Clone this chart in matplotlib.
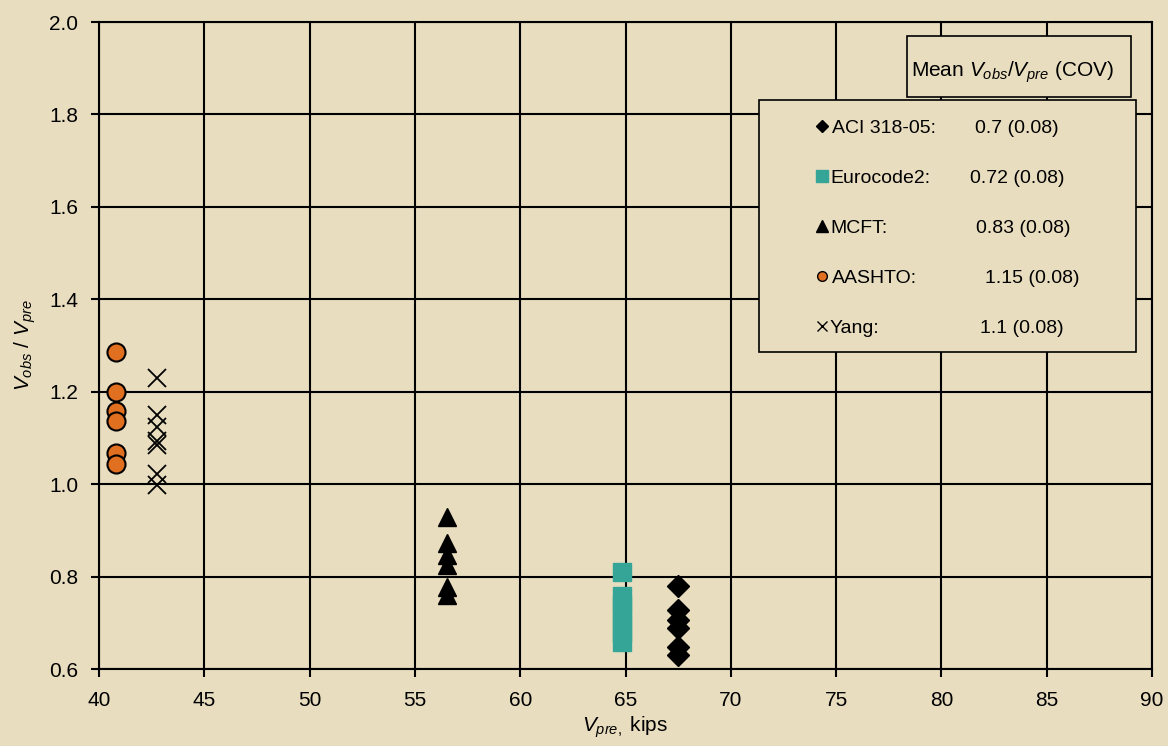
import matplotlib.pyplot as plt
from matplotlib.patches import Rectangle

plt.rcParams['font.family'] = 'Liberation Sans'
plt.rcParams['mathtext.fontset'] = 'custom'
plt.rcParams['mathtext.rm'] = 'Liberation Sans'
plt.rcParams['mathtext.it'] = 'Liberation Sans:italic'

BG = '#E8DDBF'

# data
aashto_x = [40.8] * 6
aashto_y = [1.286, 1.199, 1.158, 1.137, 1.067, 1.044]
yang_x = [42.75] * 7
yang_y = [1.230, 1.150, 1.124, 1.093, 1.085, 1.022, 0.998]
mcft_x = [56.5] * 6
mcft_y = [0.929, 0.873, 0.847, 0.825, 0.777, 0.760]
euro_x = [64.85] * 7
euro_y = [0.810, 0.758, 0.738, 0.718, 0.698, 0.678, 0.658]
aci_x = [67.5] * 6
aci_y = [0.780, 0.728, 0.706, 0.689, 0.648, 0.630]

legend_names = ['ACI 318-05:', 'Eurocode2:', 'MCFT:', 'AASHTO:', 'Yang:']
legend_vals = ['0.7 (0.08)', '0.72 (0.08)', '0.83 (0.08)', '1.15 (0.08)', '1.1 (0.08)']

fig = plt.figure(figsize=(11.68, 7.46), dpi=100, facecolor=BG)
ax = fig.add_axes([0.0848, 0.1032, 0.9015, 0.8673], facecolor=BG)

ax.plot(aashto_x, aashto_y, 'o', ms=13, mfc='#E07020', mec='k', mew=1.5, ls='none', zorder=3)
ax.plot(yang_x, yang_y, 'x', ms=13, mec='k', mew=1.3, ls='none', zorder=3)
ax.plot(mcft_x, mcft_y, '^', ms=13, mfc='k', mec='k', ls='none', zorder=3)
ax.plot(euro_x, euro_y, 's', ms=13.5, mfc='#35A597', mec='#35A597', ls='none', zorder=3)
ax.plot(aci_x, aci_y, 'D', ms=11.5, mfc='k', mec='k', ls='none', zorder=3)

ax.set_xlim(40, 90)
ax.set_ylim(0.6, 2.0)
ax.set_xticks(range(40, 91, 5))
ax.set_yticks([0.6, 0.8, 1.0, 1.2, 1.4, 1.6, 1.8, 2.0])
ax.set_yticklabels(['%.1f' % v for v in ax.get_yticks()])
ax.grid(True, color='k', lw=1.5)
ax.set_axisbelow(True)
for s in ax.spines.values():
    s.set_linewidth(1.5)
ax.tick_params(labelsize=15, width=1.5, length=6)
ax.tick_params(axis='x', pad=10)
ax.tick_params(axis='y', pad=9)

ax.set_xlabel(r'$V_{pre,}$ kips', fontsize=15, labelpad=3)
ax.set_ylabel(r'$V_{obs}$ / $V_{pre}$', fontsize=15, labelpad=8)

# legend boxes
def fx(px):
    return (px - 99) / (1152 - 99)

def fy(py):
    return (669 - py) / (669 - 22)

ax.add_patch(Rectangle((fx(907), fy(97)), fx(1131) - fx(907), fy(36) - fy(97),
                       transform=ax.transAxes, facecolor=BG, edgecolor='k', lw=1.2, zorder=5))
ax.text(fx(911), fy(72), r'Mean $V_{obs}$/$V_{pre}$ (COV)', transform=ax.transAxes,
        fontsize=15, va='center', ha='left', zorder=6)
ax.add_patch(Rectangle((fx(759), fy(352)), fx(1136) - fx(759), fy(100) - fy(352),
                       transform=ax.transAxes, facecolor=BG, edgecolor='k', lw=1.2, zorder=5))

styles = [dict(marker='D', ms=6, mfc='k', mec='k'),
          dict(marker='s', ms=8, mfc='#35A597', mec='#35A597'),
          dict(marker='^', ms=8, mfc='k', mec='k'),
          dict(marker='o', ms=7, mfc='#E07020', mec='k', mew=1),
          dict(marker='x', ms=7, mec='k', mew=1)]
row_y = [128, 178, 228, 278, 328]
name_x = [832, 830, 830, 832, 830]
val_x = [975, 970, 976, 985, 980]
for i in range(5):
    ax.plot([fx(822)], [fy(row_y[i] - 2)], transform=ax.transAxes, ls='none',
            clip_on=False, zorder=6, **styles[i])
    ax.text(fx(name_x[i]), fy(row_y[i]), legend_names[i], transform=ax.transAxes,
            fontsize=14, va='center', ha='left', zorder=6)
    ax.text(fx(val_x[i]), fy(row_y[i]), legend_vals[i], transform=ax.transAxes,
            fontsize=14, va='center', ha='left', zorder=6)

fig.savefig('out.png', dpi=100, facecolor=BG)
